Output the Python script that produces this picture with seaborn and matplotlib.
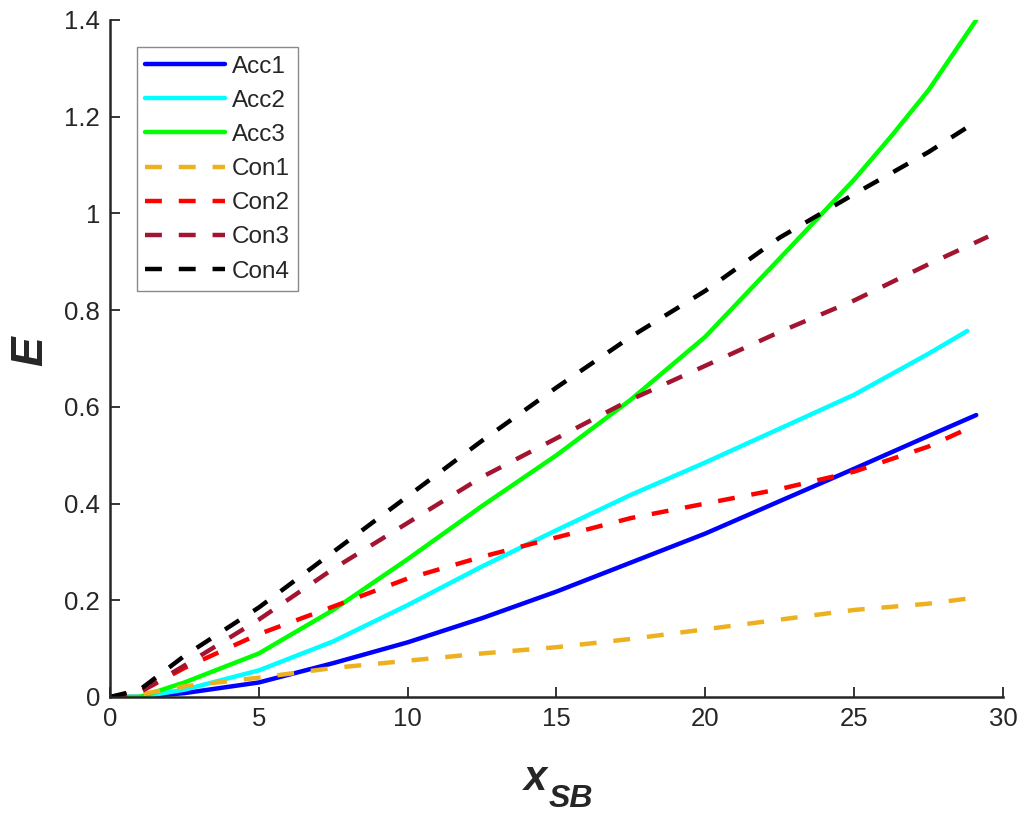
import numpy as np
import pandas as pd
import seaborn as sns
import matplotlib.pyplot as plt

# data
x_acc1 = [0, 1, 2.5, 5, 7.5, 10, 12.5, 15, 17.5, 20, 22.5, 25, 27.5, 29.1]
y_acc1 = [0, 0, 0.008, 0.03, 0.07, 0.113, 0.163, 0.218, 0.278, 0.338, 0.405, 0.472, 0.54, 0.583]

x_acc2 = [0, 1, 2.5, 5, 7.5, 10, 12.5, 15, 17.5, 20, 22.5, 25, 27.5, 28.8]
y_acc2 = [0, 0, 0.015, 0.055, 0.115, 0.19, 0.27, 0.345, 0.418, 0.485, 0.555, 0.625, 0.71, 0.757]

x_acc3 = [0, 1, 2.5, 5, 7.5, 10, 12.5, 15, 17.5, 20, 22.5, 25, 26.25, 27.5, 29.1]
y_acc3 = [0, 0, 0.03, 0.09, 0.18, 0.285, 0.395, 0.50, 0.615, 0.745, 0.907, 1.07, 1.16, 1.255, 1.40]

x_con1 = [0, 1, 2.5, 5, 7.5, 10, 12.5, 15, 17.5, 20, 22.5, 25, 27.5, 29.0]
y_con1 = [0, 0.005, 0.022, 0.04, 0.06, 0.075, 0.09, 0.103, 0.12, 0.14, 0.16, 0.18, 0.193, 0.205]

x_con2 = [0, 1, 2.5, 5, 7.5, 10, 12.5, 15, 17.5, 20, 22.5, 25, 27.5, 29.0]
y_con2 = [0, 0.01, 0.06, 0.13, 0.187, 0.245, 0.29, 0.33, 0.37, 0.40, 0.43, 0.466, 0.518, 0.56]

x_con3 = [0, 1, 2.5, 5, 7.5, 10, 12.5, 15, 17.5, 20, 22.5, 25, 27.5, 29.5]
y_con3 = [0, 0.01, 0.065, 0.16, 0.265, 0.36, 0.455, 0.535, 0.615, 0.685, 0.755, 0.82, 0.895, 0.952]

x_con4 = [0, 1, 2.5, 5, 7.5, 10, 12.5, 15, 17.5, 20, 22.5, 25, 27.5, 28.9]
y_con4 = [0, 0.015, 0.085, 0.185, 0.3, 0.415, 0.53, 0.64, 0.745, 0.84, 0.95, 1.04, 1.127, 1.182]

labels = ['Acc1', 'Acc2', 'Acc3', 'Con1', 'Con2', 'Con3', 'Con4']
colors = ['#0000FF', '#00FFFF', '#00FF00', '#EDB120', '#FF0000', '#A2142F', '#000000']
xs = [x_acc1, x_acc2, x_acc3, x_con1, x_con2, x_con3, x_con4]
ys = [y_acc1, y_acc2, y_acc3, y_con1, y_con2, y_con3, y_con4]

sns.set_style('ticks')
plt.rcParams['font.family'] = ['Liberation Sans', 'DejaVu Sans']
plt.rcParams['xtick.direction'] = 'in'
plt.rcParams['ytick.direction'] = 'in'

fig = plt.figure(figsize=(10.21, 8.15), dpi=100)
ax = fig.add_axes([0.1077, 0.1448, 0.8747, 0.8307])

for i in range(len(labels)):
    df = pd.DataFrame({'x': xs[i], 'y': ys[i]})
    sns.lineplot(data=df, x='x', y='y', ax=ax, color=colors[i], linewidth=3.2,
                 label=labels[i], sort=False, estimator=None)
    if labels[i].startswith('Con'):
        ax.lines[-1].set_dashes((3.8, 3.8))

ax.set_xlim(0, 30)
ax.set_ylim(0, 1.4)
ax.set_xticks(np.arange(0, 31, 5))
ax.set_yticks(np.arange(0, 1.41, 0.2))
ax.set_yticklabels(['0', '0.2', '0.4', '0.6', '0.8', '1', '1.2', '1.4'])
ax.tick_params(labelsize=18.5, colors='#262626', length=7, width=1.3, pad=7)
for s in ['left', 'bottom']:
    ax.spines[s].set_linewidth(1.8)
    ax.spines[s].set_color('#262626')
sns.despine(ax=ax)

# axis labels: bold italic, subscript drawn next to the x label
ax.set_xlabel('x', fontsize=30, fontweight='bold', fontstyle='italic', color='#262626')
ax.xaxis.set_label_coords(0.476, -0.092)
ax.annotate('SB', xy=(1, 0), xycoords=ax.xaxis.label, xytext=(2, -8),
            textcoords='offset pixels', ha='left', va='baseline',
            fontsize=23, fontweight='bold', fontstyle='italic', color='#262626')
ax.set_ylabel('E', fontsize=32, fontweight='bold', fontstyle='italic', color='#262626')
ax.yaxis.set_label_coords(-0.066, 0.511)

leg = ax.legend(loc='upper left', bbox_to_anchor=(0.03, 0.96), borderaxespad=0,
                fontsize=17.5, handlelength=3.3, labelspacing=0.5, handletextpad=0.25,
                fancybox=False, edgecolor='#8a8a8a', framealpha=1, borderpad=0.35)
leg.get_frame().set_linewidth(1.0)

fig.savefig('out.png', dpi=100)
